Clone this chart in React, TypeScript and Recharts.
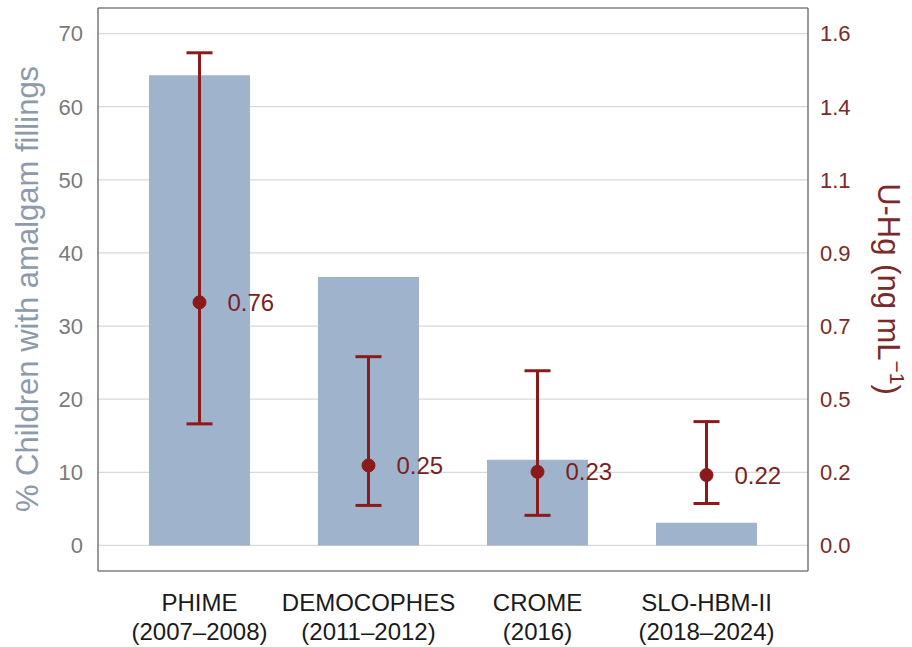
import React from 'react';
import { ComposedChart, Bar, Line, XAxis, YAxis, CartesianGrid, ErrorBar, LabelList, ReferenceLine } from 'recharts';

const studies = ['PHIME', 'DEMOCOPHES', 'CROME', 'SLO-HBM-II'];
const periods = ['(2007–2008)', '(2011–2012)', '(2016)', '(2018–2024)'];
const amalgamPct = [64.3, 36.7, 11.7, 3.1];
const uhgMean = [0.76, 0.25, 0.23, 0.22];
const uhgLow = [0.38, 0.125, 0.094, 0.131];
const uhgHigh = [1.54, 0.59, 0.546, 0.387];
const leftTicks = [0, 10, 20, 30, 40, 50, 60, 70];

// right axis is the left one rescaled: 70 % <-> 1.6 ng/mL
const K = 1.6 / 70;
const rightTicks = leftTicks.map((t) => t * K);

const data = studies.map((s, i) => ({
    name: s,
    pct: amalgamPct[i],
    mean: uhgMean[i],
    err: [uhgMean[i] - uhgLow[i], uhgHigh[i] - uhgMean[i]],
}));

const RED = '#8b1a1a';
const AXRED = '#7a2a2a';
const FONT = '"Liberation Sans", Arial, sans-serif';

const XTick = (props: any) => {
    const { x, y, payload } = props;
    const i = studies.indexOf(payload.value);
    return (
        <text x={x} y={y} textAnchor="middle" fill="#1a1a1a" fontSize={24} fontFamily={FONT}>
            <tspan x={x} dy={32}>{payload.value}</tspan>
            <tspan x={x} dy={29}>{periods[i]}</tspan>
        </text>
    );
};

const LeftTitle = () => (
    <text x={38} y={289} transform="rotate(-90, 38, 289)" textAnchor="middle" fill="#8c9aab" fontSize={31} fontFamily={FONT}>
        % Children with amalgam fillings
    </text>
);

const RightTitle = () => (
    <text x={878} y={289} transform="rotate(90, 878, 289)" textAnchor="middle" fill={AXRED} fontSize={31} fontFamily={FONT}>
        U-Hg (ng mL
        <tspan dy={-12} fontSize={21}>−1</tspan>
        <tspan dy={12}>)</tspan>
    </text>
);

export default function App() {
    return (
        <div style={{ position: 'absolute', left: 0, top: 0, background: '#fff' }}>
            <ComposedChart width={912} height={647} data={data} margin={{ top: 8, right: 0, bottom: 0, left: 0 }}>
                <CartesianGrid yAxisId="left" vertical={false} stroke="#d9d9d9" strokeWidth={1.2} />
                <XAxis
                    dataKey="name"
                    height={76}
                    padding={{ left: 17, right: 17 }}
                    tick={<XTick />}
                    tickLine={false}
                    axisLine={{ stroke: '#555', strokeWidth: 1.2 }}
                    interval={0}
                />
                <YAxis
                    yAxisId="left"
                    width={98}
                    domain={[-3.5, 73.5]}
                    ticks={leftTicks}
                    tickLine={false}
                    tickMargin={9}
                    axisLine={{ stroke: '#555', strokeWidth: 1.2 }}
                    tick={{ fill: '#7a7a7a', fontSize: 22, fontFamily: FONT }}
                    label={<LeftTitle />}
                />
                <YAxis
                    yAxisId="right"
                    orientation="right"
                    width={104}
                    domain={[-3.5 * K, 73.5 * K]}
                    ticks={rightTicks}
                    tickFormatter={(v: number) => v.toFixed(1)}
                    tickLine={false}
                    tickMargin={6}
                    axisLine={{ stroke: '#555', strokeWidth: 1.2 }}
                    tick={{ fill: AXRED, fontSize: 22, fontFamily: FONT, textAnchor: 'start' }}
                    label={<RightTitle />}
                />
                <ReferenceLine yAxisId="left" y={73.5} stroke="#555" strokeWidth={1.2} />
                <Bar yAxisId="left" dataKey="pct" fill="#9fb4cc" barSize={101} isAnimationActive={false} />
                <Line
                    yAxisId="right"
                    dataKey="mean"
                    stroke="none"
                    dot={{ r: 6.5, fill: RED, stroke: RED }}
                    activeDot={false}
                    isAnimationActive={false}
                >
                    <ErrorBar dataKey="err" direction="y" width={13} stroke={RED} strokeWidth={3} />
                    <LabelList dataKey="mean" position="right" offset={28} fill="#7a1f1f" fontSize={24} fontFamily={FONT} formatter={(v: number) => v.toFixed(2)} />
                </Line>
            </ComposedChart>
        </div>
    );
}
